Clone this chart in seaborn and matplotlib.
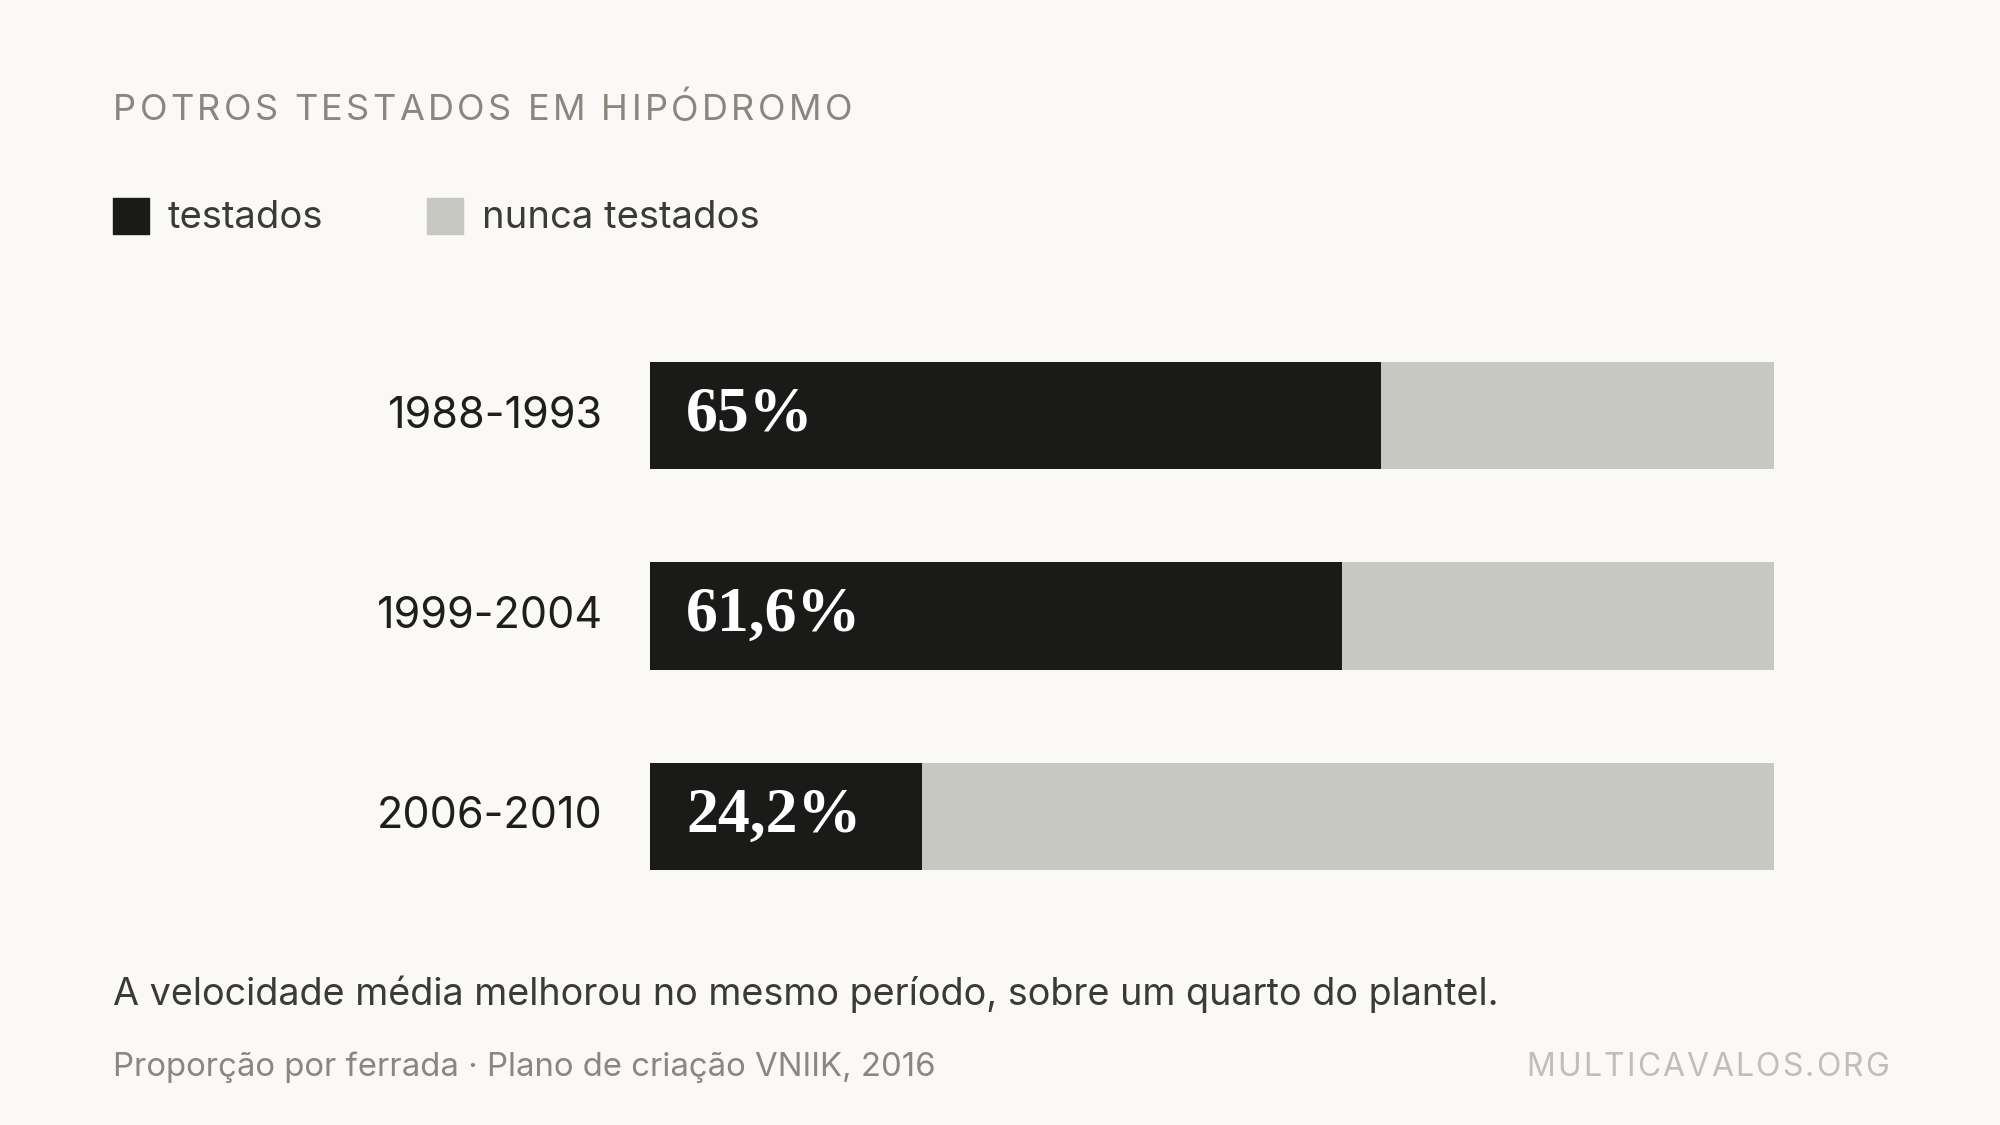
import matplotlib
matplotlib.use("Agg")
import matplotlib.pyplot as plt
import matplotlib.transforms as mtransforms
import pandas as pd
import seaborn as sns

# dados
periodos = ["1988-1993", "1999-2004", "2006-2010"]
testados = [65.0, 61.6, 24.2]
rotulos = ["65%", "61,6%", "24,2%"]
total = [100, 100, 100]

BG = "#faf9f7"
PRETO = "#1a1a18"
CINZA = "#c8c8c2"
TXT = "#3a3a36"
TXT_CLARO = "#8a8780"

sns.set_theme(style="white")
plt.rcParams["font.family"] = ["Inter", "DejaVu Sans"]

df = pd.DataFrame({"periodo": periodos, "testados": testados, "total": total})

fig = plt.figure(figsize=(20, 11.25), dpi=100, facecolor=BG)
ax = fig.add_axes([0.3250, 0.1853, 0.5620, 0.5342])
ax.set_facecolor(BG)

sns.barplot(data=df, y="periodo", x="total", color=CINZA, width=0.535,
            saturation=1, orient="h", ax=ax, linewidth=0)
sns.barplot(data=df, y="periodo", x="testados", color=PRETO, width=0.535,
            saturation=1, orient="h", ax=ax, linewidth=0)

ax.set_xlim(0, 100)
ax.set_ylim(2.5, -0.5)
ax.set_xlabel("")
ax.set_ylabel("")
ax.set_xticks([])
ax.tick_params(axis="y", length=0, pad=34, labelsize=31, labelcolor="#1e1e1c")
sobe = mtransforms.ScaledTranslation(0, 4 / 100, fig.dpi_scale_trans)
for lab in ax.get_yticklabels():
    lab.set_transform(lab.get_transform() + sobe)
for s in ax.spines.values():
    s.set_visible(False)

for i, r in enumerate(rotulos):
    ax.text(3.2, i, r, color="white", fontsize=46, fontweight="bold",
            family=["Liberation Serif", "DejaVu Serif"], va="center", ha="left")

renderer = fig.canvas.get_renderer()
W = fig.bbox.width


def spaced(x, y, s, tracking, ha="left", **kw):
    # texto com espaçamento entre letras, posição em px da figura
    larg = []
    for ch in s:
        t = fig.text(0, 0, ch if ch != " " else "n", **kw)
        w = t.get_window_extent(renderer).width
        if ch == " ":
            w *= 0.45
        larg.append(w)
        t.remove()
    tot = sum(larg) + tracking * (len(s) - 1)
    if ha == "right":
        x = x - tot
    for ch, w in zip(s, larg):
        if ch != " ":
            fig.text(x / W, y, ch, ha="left", **kw)
        x += w + tracking


spaced(113, 1 - 111 / 1125, "POTROS TESTADOS EM HIPÓDROMO", 3.4,
       color=TXT_CLARO, fontsize=26, va="center")

# legenda
for xq, cor, nome in [(113, PRETO, "testados"), (427, CINZA, "nunca testados")]:
    fig.patches.append(plt.Rectangle((xq / W, 1 - 234 / 1125), 36 / W, 36 / 1125,
                                     transform=fig.transFigure, color=cor))
    fig.text((xq + 55) / W, 1 - 218 / 1125, nome, color=TXT, fontsize=27.5, va="center")

fig.text(113 / W, 1 - 994 / 1125,
         "A velocidade média melhorou no mesmo período, sobre um quarto do plantel.",
         color=TXT, fontsize=27.2, va="center")
fig.text(113 / W, 1 - 1067 / 1125,
         "Proporção por ferrada · Plano de criação VNIIK, 2016",
         color=TXT_CLARO, fontsize=23.7, va="center")
spaced(1889, 1 - 1067 / 1125, "MULTICAVALOS.ORG", 2.2, ha="right",
       color="#c0beb8", fontsize=23, va="center")

fig.savefig("out.png", dpi=100, facecolor=BG)
